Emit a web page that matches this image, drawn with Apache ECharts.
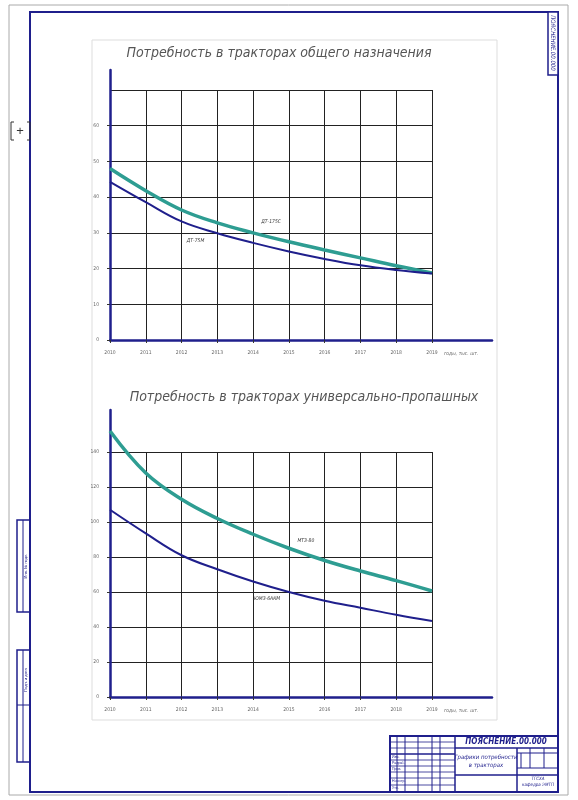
<!DOCTYPE html>
<html lang="ru">
<head>
<meta charset="UTF-8">
<title>Потребность в тракторах</title>
<style>
html,body{margin:0;padding:0;background:#fff;}
#main{width:578px;height:800px;}
</style>
</head>
<body>
<div id="main"></div>
<script src="https://cdn.jsdelivr.net/npm/echarts@6/dist/echarts.min.js"></script>
<script>
// годы по оси X
var years = ['2010', '2011', '2012', '2013', '2014', '2015', '2016', '2017', '2018', '2019'];

// тракторы общего назначения
var genGreen = [48.0, 41.8, 36.4, 32.8, 30.0, 27.5, 25.2, 23.0, 20.8, 18.8];
var genBlue  = [44.3, 38.6, 33.2, 29.9, 27.2, 24.8, 22.7, 20.9, 19.6, 18.6];
var genNames = ['ДТ-175С', 'ДТ-75М'];

// тракторы универсально-пропашные
var rowGreen = [152, 128, 113, 102, 93, 85, 78, 72, 66.5, 60.6];
var rowBlue  = [107, 93.5, 81, 73, 66, 60, 55, 51, 47, 43.4];
var rowNames = ['МТЗ-80', 'ЮМЗ-6АКМ'];

var titles = ['Потребность в тракторах общего назначения', 'Потребность в тракторах универсально-пропашных'];
var axisName = 'годы, тыс. шт.';

var navy = '#1f1f8c';
var teal = '#2e9d92';
var font = "'Liberation Sans Narrow','DejaVu Sans Condensed',sans-serif";

// точки с подписями марок
function withLabel(values, idx, text, pos, offset) {
    return values.map(function (v, i) {
        if (i !== idx) return v;
        return {
            value: v,
            label: {
                show: true, formatter: text, position: pos, offset: offset,
                fontSize: 5, fontStyle: 'italic', color: '#333', fontFamily: font
            }
        };
    });
}

// оси-рамки (толстые синие линии)
function frameX(grid) {
    return {
        gridIndex: grid, type: 'value', min: 0, max: 1,
        axisLine: {show: true, lineStyle: {color: navy, width: 2.5}},
        axisTick: {show: false}, axisLabel: {show: false}, splitLine: {show: false}
    };
}
function frameY(grid) {
    return {
        gridIndex: grid, type: 'value', min: 0, max: 1,
        axisLine: {show: true, lineStyle: {color: navy, width: 2.5}},
        axisTick: {show: false}, axisLabel: {show: false}, splitLine: {show: false}
    };
}
function dataX(grid) {
    return {
        gridIndex: grid, type: 'category', data: years, boundaryGap: false,
        axisLine: {show: false},
        axisTick: {show: true, length: 3, lineStyle: {color: '#333'}},
        axisLabel: {fontSize: 5, color: '#666', margin: 10, fontFamily: font},
        splitLine: {show: true, lineStyle: {color: '#222', width: 1}},
        name: axisName, nameLocation: 'end', nameGap: 12,
        nameTextStyle: {fontSize: 5, color: '#666', fontStyle: 'italic', verticalAlign: 'top', padding: [11, 0, 0, 0], fontFamily: font}
    };
}
function dataY(grid, max, step, showMax) {
    return {
        gridIndex: grid, type: 'value', min: 0, max: max, interval: step,
        axisLine: {show: false},
        axisTick: {show: true, length: 3, lineStyle: {color: '#333'}},
        axisLabel: {fontSize: 5, color: '#666', margin: 11, showMaxLabel: showMax, fontFamily: font},
        splitLine: {show: true, lineStyle: {color: '#222', width: 1}}
    };
}
function line(name, values, grid, color, width) {
    return {
        name: name, type: 'line', xAxisIndex: grid, yAxisIndex: grid,
        data: values, smooth: 0.4, clip: false,
        symbol: 'circle', symbolSize: 0, silent: true,
        lineStyle: {color: color, width: width}, itemStyle: {color: color}
    };
}

var chart = echarts.init(document.getElementById('main'));
var option = {
    animation: false,
    backgroundColor: '#fff',
    title: [
        {text: titles[0], left: 274, top: 41, textAlign: 'center',
         textStyle: {fontSize: 14, fontStyle: 'italic', fontWeight: 'normal', color: '#555', fontFamily: font}},
        {text: titles[1], left: 299, top: 385, textAlign: 'center',
         textStyle: {fontSize: 14, fontStyle: 'italic', fontWeight: 'normal', color: '#555', fontFamily: font}}
    ],
    grid: [
        {left: 110, top: 70, right: 86, bottom: 460},
        {left: 110, top: 90, right: 146, bottom: 460},
        {left: 110, top: 410, right: 86, bottom: 103},
        {left: 110, top: 452, right: 146, bottom: 103}
    ],
    xAxis: [frameX(0), dataX(1), frameX(2), dataX(3)],
    yAxis: [frameY(0), dataY(1, 70, 10, false), frameY(2), dataY(3, 140, 20, true)],
    series: [
        line(genNames[0], withLabel(genGreen, 4, genNames[0], 'top', [18, -4]), 1, teal, 3.5),
        line(genNames[1], withLabel(genBlue, 2, genNames[1], 'bottom', [14, 12]), 1, navy, 2),
        line(rowNames[0], withLabel(rowGreen, 5, rowNames[0], 'top', [17, 0]), 3, teal, 3.5),
        line(rowNames[1], withLabel(rowBlue, 4, rowNames[1], 'bottom', [14, 10]), 3, navy, 2)
    ],
    graphic: [
        // лист и рамка
        {type: 'rect', shape: {x: 9, y: 5, width: 559, height: 790}, style: {fill: 'none', stroke: '#aaa', lineWidth: 1}, z: -1},
        {type: 'rect', shape: {x: 30, y: 12, width: 528, height: 780}, style: {fill: 'none', stroke: navy, lineWidth: 2}, z: -1},
        {type: 'rect', shape: {x: 92, y: 40, width: 405, height: 680}, style: {fill: 'none', stroke: '#ddd', lineWidth: 1}, z: -1},
        // штамп сверху справа
        {type: 'rect', shape: {x: 548, y: 12, width: 10, height: 63}, style: {fill: '#fff', stroke: navy, lineWidth: 1.5}},
        {type: 'text', x: 553, y: 43, rotation: -Math.PI / 2,
         style: {text: 'ПОЯСНЕНИЕ.00.000', fontSize: 6, fontStyle: 'italic', fill: navy, align: 'center', verticalAlign: 'middle', fontFamily: font}},
        // метка слева
        {type: 'polyline', shape: {points: [[14, 122], [11, 122], [11, 140], [14, 140]]}, style: {stroke: '#333', lineWidth: 1, fill: 'none'}},
        {type: 'polyline', shape: {points: [[27, 122], [30, 122], [30, 140], [27, 140]]}, style: {stroke: '#333', lineWidth: 1, fill: 'none'}},
        {type: 'text', x: 20, y: 131, style: {text: '+', fontSize: 13, fill: '#333', align: 'center', verticalAlign: 'middle'}},
        // боковые графы
        {type: 'rect', shape: {x: 17, y: 520, width: 13, height: 92}, style: {fill: 'none', stroke: navy, lineWidth: 1.5}},
        {type: 'line', shape: {x1: 23, y1: 520, x2: 23, y2: 612}, style: {stroke: navy, lineWidth: 1}},
        {type: 'rect', shape: {x: 17, y: 650, width: 13, height: 112}, style: {fill: 'none', stroke: navy, lineWidth: 1.5}},
        {type: 'line', shape: {x1: 23, y1: 650, x2: 23, y2: 762}, style: {stroke: navy, lineWidth: 1}},
        {type: 'line', shape: {x1: 17, y1: 705, x2: 30, y2: 705}, style: {stroke: navy, lineWidth: 1}},
        {type: 'text', x: 26, y: 566, rotation: Math.PI / 2, style: {text: 'Инв. № подл.', fontSize: 4, fill: navy, align: 'center', verticalAlign: 'middle'}},
        {type: 'text', x: 26, y: 680, rotation: Math.PI / 2, style: {text: 'Подп. и дата', fontSize: 4, fill: navy, align: 'center', verticalAlign: 'middle'}},
        // основная надпись
        {type: 'rect', shape: {x: 390, y: 736, width: 168, height: 56}, style: {fill: '#fff', stroke: navy, lineWidth: 2}},
        {type: 'line', shape: {x1: 455, y1: 736, x2: 455, y2: 792}, style: {stroke: navy, lineWidth: 1.5}},
        {type: 'line', shape: {x1: 455, y1: 748, x2: 558, y2: 748}, style: {stroke: navy, lineWidth: 1.5}},
        {type: 'line', shape: {x1: 455, y1: 775, x2: 558, y2: 775}, style: {stroke: navy, lineWidth: 1.5}},
        {type: 'line', shape: {x1: 517, y1: 748, x2: 517, y2: 792}, style: {stroke: navy, lineWidth: 1.5}},
        {type: 'line', shape: {x1: 517, y1: 753, x2: 558, y2: 753}, style: {stroke: navy, lineWidth: 1}},
        {type: 'line', shape: {x1: 517, y1: 768, x2: 558, y2: 768}, style: {stroke: navy, lineWidth: 1}},
        {type: 'line', shape: {x1: 530, y1: 748, x2: 530, y2: 768}, style: {stroke: navy, lineWidth: 1}},
        {type: 'line', shape: {x1: 544, y1: 748, x2: 544, y2: 768}, style: {stroke: navy, lineWidth: 1}},
        {type: 'line', shape: {x1: 521, y1: 753, x2: 521, y2: 768}, style: {stroke: navy, lineWidth: 1}},
        {type: 'line', shape: {x1: 397, y1: 736, x2: 397, y2: 792}, style: {stroke: navy, lineWidth: 1}},
        {type: 'line', shape: {x1: 405, y1: 736, x2: 405, y2: 792}, style: {stroke: navy, lineWidth: 1}},
        {type: 'line', shape: {x1: 418, y1: 736, x2: 418, y2: 792}, style: {stroke: navy, lineWidth: 1}},
        {type: 'line', shape: {x1: 432, y1: 736, x2: 432, y2: 792}, style: {stroke: navy, lineWidth: 1}},
        {type: 'line', shape: {x1: 440, y1: 736, x2: 440, y2: 792}, style: {stroke: navy, lineWidth: 1}},
        {type: 'line', shape: {x1: 390, y1: 742, x2: 455, y2: 742}, style: {stroke: navy, lineWidth: 0.8}},
        {type: 'line', shape: {x1: 390, y1: 748, x2: 455, y2: 748}, style: {stroke: navy, lineWidth: 0.8}},
        {type: 'line', shape: {x1: 390, y1: 754, x2: 455, y2: 754}, style: {stroke: navy, lineWidth: 1.5}},
        {type: 'line', shape: {x1: 390, y1: 760, x2: 455, y2: 760}, style: {stroke: navy, lineWidth: 0.8}},
        {type: 'line', shape: {x1: 390, y1: 766, x2: 455, y2: 766}, style: {stroke: navy, lineWidth: 0.8}},
        {type: 'line', shape: {x1: 390, y1: 772, x2: 455, y2: 772}, style: {stroke: navy, lineWidth: 0.8}},
        {type: 'line', shape: {x1: 390, y1: 778, x2: 455, y2: 778}, style: {stroke: navy, lineWidth: 0.8}},
        {type: 'line', shape: {x1: 390, y1: 785, x2: 455, y2: 785}, style: {stroke: navy, lineWidth: 0.8}},
        {type: 'text', x: 506, y: 742, style: {text: 'ПОЯСНЕНИЕ.00.000', fontSize: 8, fontStyle: 'italic', fontWeight: 'bold', fill: navy, align: 'center', verticalAlign: 'middle', fontFamily: font}},
        {type: 'text', x: 486, y: 761, style: {text: 'Графики потребности\nв тракторах', fontSize: 6, fontStyle: 'italic', fill: navy, align: 'center', verticalAlign: 'middle', lineHeight: 8, fontFamily: font}},
        {type: 'text', x: 538, y: 776, style: {text: 'ТГСХА\nкафедра ЭМТП', fontSize: 4.5, fontStyle: 'italic', fill: navy, align: 'center', verticalAlign: 'top', lineHeight: 6, fontFamily: font}},
        {type: 'text', x: 392, y: 757, style: {text: 'Изм.', fontSize: 3.5, fill: navy, verticalAlign: 'middle'}},
        {type: 'text', x: 392, y: 763, style: {text: 'Разраб.', fontSize: 3.5, fill: navy, verticalAlign: 'middle'}},
        {type: 'text', x: 392, y: 769, style: {text: 'Пров.', fontSize: 3.5, fill: navy, verticalAlign: 'middle'}},
        {type: 'text', x: 392, y: 781, style: {text: 'Н.контр.', fontSize: 3.5, fill: navy, verticalAlign: 'middle'}},
        {type: 'text', x: 392, y: 788, style: {text: 'Утв.', fontSize: 3.5, fill: navy, verticalAlign: 'middle'}}
    ]
};
chart.setOption(option);
</script>
</body>
</html>
